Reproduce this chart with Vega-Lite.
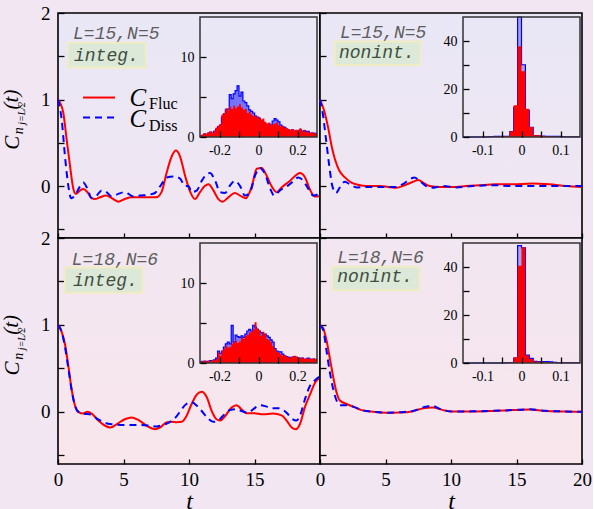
{
"$schema": "https://vega.github.io/schema/vega-lite/v6.json",
"background": "#f1e6f1",
"padding": {"left": 0, "top": 3, "right": 0, "bottom": 0},
"bounds": "flush",
"spacing": 0,
"columns": 2,
"config": {
  "view": {"stroke": "#000", "strokeWidth": 1.6},
  "axis": {"labelFont": "Liberation Serif", "titleFont": "Liberation Serif", "labelColor": "#000", "tickColor": "#000", "titleColor": "#000", "grid": false, "domain": false}
},
"datasets": {
  "tl_f": [{"t":0,"v":1.0},{"t":0.2,"v":0.95},{"t":0.4,"v":0.85},{"t":0.66,"v":0.54},{"t":0.92,"v":0.23},{"t":1.17,"v":-0.03},{"t":1.37,"v":-0.09},{"t":1.55,"v":-0.07},{"t":1.7,"v":-0.05},{"t":1.93,"v":-0.035},{"t":2.24,"v":-0.07},{"t":2.57,"v":-0.14},{"t":2.82,"v":-0.15},{"t":3.2,"v":-0.13},{"t":3.66,"v":-0.11},{"t":4.1,"v":-0.14},{"t":4.6,"v":-0.18},{"t":5.1,"v":-0.15},{"t":5.6,"v":-0.13},{"t":6.26,"v":-0.13},{"t":7.0,"v":-0.13},{"t":7.5,"v":-0.13},{"t":7.9,"v":-0.07},{"t":8.3,"v":0.16},{"t":8.7,"v":0.35},{"t":9.0,"v":0.41},{"t":9.3,"v":0.35},{"t":9.7,"v":0.12},{"t":10.1,"v":-0.07},{"t":10.46,"v":-0.15},{"t":10.84,"v":-0.07},{"t":11.2,"v":0.0},{"t":11.5,"v":0.02},{"t":11.86,"v":-0.05},{"t":12.24,"v":-0.15},{"t":12.57,"v":-0.18},{"t":13.0,"v":-0.13},{"t":13.5,"v":-0.08},{"t":13.9,"v":-0.11},{"t":14.35,"v":-0.14},{"t":14.8,"v":0.0},{"t":15.17,"v":0.2},{"t":15.55,"v":0.21},{"t":15.93,"v":0.12},{"t":16.3,"v":0.0},{"t":16.7,"v":-0.07},{"t":17.07,"v":-0.015},{"t":17.7,"v":0.06},{"t":18.2,"v":0.13},{"t":18.47,"v":0.15},{"t":18.86,"v":0.1},{"t":19.2,"v":-0.03},{"t":19.6,"v":-0.12},{"t":19.85,"v":-0.12},{"t":20,"v":-0.1}],
  "tl_d": [{"t":0,"v":1.0},{"t":0.28,"v":0.77},{"t":0.53,"v":0.35},{"t":0.79,"v":0.0},{"t":1.0,"v":-0.14},{"t":1.3,"v":-0.11},{"t":1.63,"v":-0.015},{"t":1.93,"v":0.04},{"t":2.24,"v":-0.03},{"t":2.57,"v":-0.14},{"t":2.95,"v":-0.11},{"t":3.33,"v":-0.05},{"t":3.7,"v":-0.07},{"t":4.1,"v":-0.12},{"t":4.6,"v":-0.09},{"t":5.1,"v":-0.07},{"t":5.75,"v":-0.12},{"t":6.26,"v":-0.11},{"t":6.9,"v":-0.1},{"t":7.4,"v":-0.08},{"t":7.9,"v":0.02},{"t":8.3,"v":0.1},{"t":8.8,"v":0.11},{"t":9.3,"v":0.09},{"t":9.7,"v":0.0},{"t":9.95,"v":0.0},{"t":10.2,"v":-0.07},{"t":10.6,"v":-0.05},{"t":10.97,"v":0.06},{"t":11.3,"v":0.13},{"t":11.6,"v":0.15},{"t":12.0,"v":0.06},{"t":12.37,"v":-0.07},{"t":12.75,"v":-0.08},{"t":13.1,"v":0.0},{"t":13.5,"v":0.06},{"t":13.9,"v":0.0},{"t":14.27,"v":-0.11},{"t":14.66,"v":-0.07},{"t":15.04,"v":0.12},{"t":15.4,"v":0.21},{"t":15.8,"v":0.14},{"t":16.2,"v":-0.03},{"t":16.5,"v":-0.11},{"t":16.95,"v":-0.05},{"t":17.5,"v":0.0},{"t":18.0,"v":0.06},{"t":18.35,"v":0.1},{"t":18.73,"v":0.06},{"t":19.1,"v":-0.03},{"t":19.5,"v":-0.11},{"t":19.87,"v":-0.09},{"t":20,"v":-0.07}],
  "tr_f": [{"t":0,"v":1.0},{"t":0.3,"v":0.88},{"t":0.63,"v":0.67},{"t":0.89,"v":0.46},{"t":1.14,"v":0.31},{"t":1.47,"v":0.18},{"t":1.9,"v":0.1},{"t":2.4,"v":0.04},{"t":2.9,"v":0.015},{"t":3.55,"v":0.0},{"t":4.56,"v":0.0},{"t":5.2,"v":-0.01},{"t":5.83,"v":-0.02},{"t":6.46,"v":0.01},{"t":7.1,"v":0.05},{"t":7.5,"v":0.07},{"t":7.86,"v":0.04},{"t":8.37,"v":0.0},{"t":9.1,"v":-0.01},{"t":10.1,"v":-0.01},{"t":11.15,"v":0.0},{"t":12.2,"v":0.01},{"t":13.4,"v":0.02},{"t":14.7,"v":0.02},{"t":16.2,"v":0.03},{"t":17.5,"v":0.02},{"t":18.8,"v":0.0},{"t":20,"v":-0.01}],
  "tr_d": [{"t":0,"v":1.0},{"t":0.2,"v":0.85},{"t":0.46,"v":0.54},{"t":0.71,"v":0.23},{"t":0.94,"v":0.0},{"t":1.22,"v":-0.08},{"t":1.52,"v":-0.015},{"t":1.9,"v":0.05},{"t":2.28,"v":0.02},{"t":2.8,"v":-0.015},{"t":3.55,"v":-0.01},{"t":4.8,"v":-0.01},{"t":5.83,"v":-0.01},{"t":6.3,"v":0.02},{"t":7.0,"v":0.09},{"t":7.2,"v":0.1},{"t":7.6,"v":0.06},{"t":8.1,"v":0.0},{"t":8.5,"v":-0.02},{"t":9.4,"v":0.0},{"t":10.4,"v":-0.015},{"t":11.66,"v":0.0},{"t":13.2,"v":0.01},{"t":14.7,"v":0.0},{"t":16.2,"v":0.0},{"t":17.7,"v":0.0},{"t":20,"v":0.0}],
  "bl_f": [{"t":0,"v":1.0},{"t":0.28,"v":0.92},{"t":0.53,"v":0.78},{"t":0.79,"v":0.53},{"t":1.04,"v":0.26},{"t":1.3,"v":0.07},{"t":1.55,"v":0.0},{"t":1.93,"v":-0.02},{"t":2.24,"v":0.0},{"t":2.57,"v":-0.02},{"t":3.08,"v":-0.1},{"t":3.6,"v":-0.16},{"t":4.0,"v":-0.18},{"t":4.5,"v":-0.14},{"t":5.1,"v":-0.085},{"t":5.6,"v":-0.065},{"t":6.1,"v":-0.09},{"t":6.77,"v":-0.16},{"t":7.4,"v":-0.2},{"t":7.8,"v":-0.18},{"t":8.3,"v":-0.12},{"t":8.7,"v":-0.115},{"t":9.06,"v":-0.12},{"t":9.44,"v":-0.115},{"t":9.8,"v":-0.05},{"t":10.2,"v":0.09},{"t":10.6,"v":0.2},{"t":10.97,"v":0.23},{"t":11.35,"v":0.17},{"t":11.73,"v":0.01},{"t":12.1,"v":-0.085},{"t":12.37,"v":-0.1},{"t":12.75,"v":-0.05},{"t":13.25,"v":0.05},{"t":13.64,"v":0.077},{"t":14.0,"v":0.03},{"t":14.4,"v":-0.015},{"t":14.9,"v":-0.015},{"t":15.67,"v":-0.027},{"t":16.4,"v":-0.02},{"t":17.07,"v":-0.04},{"t":17.45,"v":-0.1},{"t":17.84,"v":-0.18},{"t":18.17,"v":-0.2},{"t":18.47,"v":-0.14},{"t":18.86,"v":0.06},{"t":19.24,"v":0.2},{"t":19.6,"v":0.33},{"t":19.95,"v":0.38},{"t":20,"v":0.38}],
  "bl_d": [{"t":0,"v":1.0},{"t":0.28,"v":0.92},{"t":0.53,"v":0.75},{"t":0.79,"v":0.5},{"t":1.04,"v":0.25},{"t":1.3,"v":0.07},{"t":1.55,"v":0.0},{"t":1.93,"v":-0.02},{"t":2.5,"v":-0.03},{"t":3.0,"v":-0.08},{"t":3.5,"v":-0.12},{"t":4.0,"v":-0.14},{"t":5.0,"v":-0.15},{"t":6.0,"v":-0.15},{"t":7.0,"v":-0.16},{"t":7.5,"v":-0.17},{"t":8.0,"v":-0.15},{"t":8.5,"v":-0.12},{"t":9.06,"v":-0.05},{"t":9.44,"v":0.03},{"t":9.8,"v":0.09},{"t":10.2,"v":0.11},{"t":10.6,"v":0.07},{"t":10.97,"v":0.01},{"t":11.35,"v":-0.06},{"t":11.86,"v":-0.115},{"t":12.24,"v":-0.1},{"t":12.6,"v":-0.045},{"t":13.13,"v":0.02},{"t":13.64,"v":0.03},{"t":14.0,"v":0.01},{"t":14.5,"v":-0.01},{"t":14.9,"v":0.03},{"t":15.4,"v":0.077},{"t":15.93,"v":0.06},{"t":16.4,"v":0.04},{"t":16.9,"v":0.04},{"t":17.45,"v":-0.01},{"t":17.84,"v":-0.077},{"t":18.2,"v":-0.1},{"t":18.47,"v":-0.045},{"t":18.86,"v":0.15},{"t":19.24,"v":0.3},{"t":19.6,"v":0.36},{"t":19.95,"v":0.4},{"t":20,"v":0.4}],
  "br_f": [{"t":0,"v":1.0},{"t":0.25,"v":0.96},{"t":0.5,"v":0.82},{"t":0.76,"v":0.61},{"t":1.01,"v":0.4},{"t":1.27,"v":0.22},{"t":1.52,"v":0.13},{"t":2.03,"v":0.09},{"t":2.53,"v":0.06},{"t":3.17,"v":0.02},{"t":4.06,"v":0.0},{"t":5.07,"v":-0.01},{"t":6.08,"v":-0.008},{"t":7.1,"v":0.008},{"t":7.86,"v":0.04},{"t":8.6,"v":0.05},{"t":9.4,"v":0.02},{"t":10.1,"v":0.004},{"t":11.66,"v":0.004},{"t":13.2,"v":0.01},{"t":14.7,"v":0.02},{"t":16.0,"v":0.027},{"t":17.2,"v":0.01},{"t":18.76,"v":0.004},{"t":20,"v":0.0}],
  "br_d": [{"t":0,"v":1.0},{"t":0.25,"v":0.94},{"t":0.5,"v":0.7},{"t":0.76,"v":0.45},{"t":1.01,"v":0.26},{"t":1.27,"v":0.13},{"t":1.52,"v":0.077},{"t":1.9,"v":0.077},{"t":2.53,"v":0.06},{"t":3.17,"v":0.02},{"t":4.06,"v":0.0},{"t":5.07,"v":-0.01},{"t":6.08,"v":-0.005},{"t":7.1,"v":0.01},{"t":7.86,"v":0.05},{"t":8.5,"v":0.07},{"t":9.4,"v":0.02},{"t":10.1,"v":0.004},{"t":11.66,"v":0.006},{"t":13.2,"v":0.012},{"t":14.7,"v":0.02},{"t":16.0,"v":0.03},{"t":17.2,"v":0.012},{"t":18.76,"v":0.004},{"t":20,"v":0.0}],
  "tl_hf": [{"b":-0.30,"c":0.2},{"b":-0.29,"c":0.3},{"b":-0.28,"c":0.5},{"b":-0.27,"c":0.4},{"b":-0.26,"c":0.6},{"b":-0.25,"c":0.7},{"b":-0.24,"c":0.5},{"b":-0.23,"c":0.8},{"b":-0.22,"c":1.2},{"b":-0.21,"c":1.4},{"b":-0.20,"c":1.6},{"b":-0.19,"c":2.8},{"b":-0.18,"c":3.0},{"b":-0.17,"c":3.6},{"b":-0.16,"c":3.3},{"b":-0.15,"c":3.8},{"b":-0.14,"c":3.5},{"b":-0.13,"c":3.9},{"b":-0.12,"c":3.6},{"b":-0.11,"c":3.8},{"b":-0.10,"c":4.1},{"b":-0.09,"c":3.7},{"b":-0.08,"c":3.4},{"b":-0.07,"c":3.5},{"b":-0.06,"c":3.0},{"b":-0.05,"c":3.2},{"b":-0.04,"c":2.8},{"b":-0.03,"c":2.6},{"b":-0.02,"c":2.7},{"b":-0.01,"c":2.4},{"b":0.00,"c":2.5},{"b":0.01,"c":2.2},{"b":0.02,"c":2.3},{"b":0.03,"c":1.9},{"b":0.04,"c":1.7},{"b":0.05,"c":1.8},{"b":0.06,"c":1.5},{"b":0.07,"c":1.6},{"b":0.08,"c":1.7},{"b":0.09,"c":1.8},{"b":0.10,"c":1.5},{"b":0.11,"c":1.3},{"b":0.12,"c":1.4},{"b":0.13,"c":1.2},{"b":0.14,"c":1.1},{"b":0.15,"c":1.0},{"b":0.16,"c":0.9},{"b":0.17,"c":1.0},{"b":0.18,"c":0.8},{"b":0.19,"c":0.9},{"b":0.20,"c":0.9},{"b":0.21,"c":1.1},{"b":0.22,"c":0.7},{"b":0.23,"c":0.9},{"b":0.24,"c":0.6},{"b":0.25,"c":0.7},{"b":0.26,"c":0.5},{"b":0.27,"c":0.6},{"b":0.28,"c":0.5},{"b":0.29,"c":0.4},{"b":0.30,"c":0.4}],
  "tl_hd": [{"b":-0.30,"c":0.1},{"b":-0.29,"c":0.2},{"b":-0.28,"c":0.4},{"b":-0.27,"c":0.3},{"b":-0.26,"c":0.5},{"b":-0.25,"c":0.6},{"b":-0.24,"c":0.5},{"b":-0.23,"c":0.7},{"b":-0.22,"c":1.0},{"b":-0.21,"c":1.3},{"b":-0.20,"c":1.5},{"b":-0.19,"c":2.5},{"b":-0.18,"c":2.9},{"b":-0.17,"c":3.4},{"b":-0.16,"c":3.5},{"b":-0.15,"c":5.3},{"b":-0.14,"c":4.8},{"b":-0.13,"c":5.4},{"b":-0.12,"c":5.8},{"b":-0.11,"c":6.4},{"b":-0.10,"c":5.1},{"b":-0.09,"c":5.6},{"b":-0.08,"c":4.5},{"b":-0.07,"c":4.3},{"b":-0.06,"c":3.9},{"b":-0.05,"c":3.4},{"b":-0.04,"c":3.2},{"b":-0.03,"c":3.0},{"b":-0.02,"c":2.6},{"b":-0.01,"c":2.5},{"b":0.00,"c":2.3},{"b":0.01,"c":2.0},{"b":0.02,"c":1.8},{"b":0.03,"c":1.6},{"b":0.04,"c":1.5},{"b":0.05,"c":1.6},{"b":0.06,"c":1.5},{"b":0.07,"c":2.0},{"b":0.08,"c":2.3},{"b":0.09,"c":2.1},{"b":0.10,"c":1.9},{"b":0.11,"c":1.5},{"b":0.12,"c":1.3},{"b":0.13,"c":1.2},{"b":0.14,"c":1.0},{"b":0.15,"c":0.9},{"b":0.16,"c":0.8},{"b":0.17,"c":0.9},{"b":0.18,"c":0.7},{"b":0.19,"c":0.8},{"b":0.20,"c":0.8},{"b":0.21,"c":0.9},{"b":0.22,"c":0.7},{"b":0.23,"c":0.8},{"b":0.24,"c":0.7},{"b":0.25,"c":0.7},{"b":0.26,"c":0.5},{"b":0.27,"c":0.5},{"b":0.28,"c":0.5},{"b":0.29,"c":0.4},{"b":0.30,"c":0.4}],
  "bl_hf": [{"b":-0.30,"c":0.2},{"b":-0.29,"c":0.2},{"b":-0.28,"c":0.3},{"b":-0.27,"c":0.2},{"b":-0.26,"c":0.3},{"b":-0.25,"c":0.2},{"b":-0.24,"c":0.4},{"b":-0.23,"c":0.3},{"b":-0.22,"c":0.5},{"b":-0.21,"c":1.3},{"b":-0.20,"c":0.9},{"b":-0.19,"c":1.5},{"b":-0.18,"c":1.8},{"b":-0.17,"c":2.2},{"b":-0.16,"c":1.9},{"b":-0.15,"c":2.0},{"b":-0.14,"c":2.4},{"b":-0.13,"c":2.6},{"b":-0.12,"c":2.8},{"b":-0.11,"c":2.5},{"b":-0.10,"c":2.7},{"b":-0.09,"c":3.2},{"b":-0.08,"c":3.0},{"b":-0.07,"c":3.4},{"b":-0.06,"c":3.5},{"b":-0.05,"c":3.8},{"b":-0.04,"c":3.9},{"b":-0.03,"c":4.2},{"b":-0.02,"c":5.1},{"b":-0.01,"c":4.3},{"b":0.00,"c":4.1},{"b":0.01,"c":3.4},{"b":0.02,"c":3.9},{"b":0.03,"c":3.6},{"b":0.04,"c":3.0},{"b":0.05,"c":2.9},{"b":0.06,"c":2.6},{"b":0.07,"c":2.1},{"b":0.08,"c":1.75},{"b":0.09,"c":1.4},{"b":0.10,"c":1.3},{"b":0.11,"c":1.1},{"b":0.12,"c":0.9},{"b":0.13,"c":1.0},{"b":0.14,"c":0.8},{"b":0.15,"c":0.7},{"b":0.16,"c":0.7},{"b":0.17,"c":0.8},{"b":0.18,"c":0.9},{"b":0.19,"c":0.8},{"b":0.20,"c":0.7},{"b":0.21,"c":0.6},{"b":0.22,"c":0.7},{"b":0.23,"c":0.5},{"b":0.24,"c":0.6},{"b":0.25,"c":0.6},{"b":0.26,"c":0.5},{"b":0.27,"c":0.5},{"b":0.28,"c":0.6},{"b":0.29,"c":0.5},{"b":0.30,"c":0.5}],
  "bl_hd": [{"b":-0.30,"c":0.1},{"b":-0.29,"c":0.2},{"b":-0.28,"c":0.2},{"b":-0.27,"c":0.2},{"b":-0.26,"c":0.2},{"b":-0.25,"c":0.3},{"b":-0.24,"c":0.3},{"b":-0.23,"c":0.4},{"b":-0.22,"c":0.6},{"b":-0.21,"c":1.5},{"b":-0.20,"c":1.2},{"b":-0.19,"c":1.5},{"b":-0.18,"c":2.0},{"b":-0.17,"c":2.4},{"b":-0.16,"c":2.6},{"b":-0.15,"c":2.4},{"b":-0.14,"c":4.7},{"b":-0.13,"c":2.6},{"b":-0.12,"c":3.5},{"b":-0.11,"c":3.3},{"b":-0.10,"c":3.2},{"b":-0.09,"c":3.4},{"b":-0.08,"c":3.2},{"b":-0.07,"c":3.6},{"b":-0.06,"c":4.0},{"b":-0.05,"c":4.2},{"b":-0.04,"c":4.0},{"b":-0.03,"c":4.7},{"b":-0.02,"c":4.5},{"b":-0.01,"c":4.2},{"b":0.00,"c":4.0},{"b":0.01,"c":3.8},{"b":0.02,"c":3.4},{"b":0.03,"c":3.6},{"b":0.04,"c":3.4},{"b":0.05,"c":3.2},{"b":0.06,"c":2.9},{"b":0.07,"c":2.6},{"b":0.08,"c":1.8},{"b":0.09,"c":1.5},{"b":0.10,"c":1.4},{"b":0.11,"c":1.4},{"b":0.12,"c":1.1},{"b":0.13,"c":0.9},{"b":0.14,"c":0.8},{"b":0.15,"c":0.7},{"b":0.16,"c":0.7},{"b":0.17,"c":0.7},{"b":0.18,"c":0.8},{"b":0.19,"c":0.7},{"b":0.20,"c":0.6},{"b":0.21,"c":0.6},{"b":0.22,"c":0.6},{"b":0.23,"c":0.5},{"b":0.24,"c":0.5},{"b":0.25,"c":0.6},{"b":0.26,"c":0.5},{"b":0.27,"c":0.5},{"b":0.28,"c":0.5},{"b":0.29,"c":0.4},{"b":0.30,"c":0.4}],
  "tr_hf": [{"b":-0.15,"c":0},{"b":-0.14,"c":0},{"b":-0.13,"c":0},{"b":-0.12,"c":0},{"b":-0.11,"c":0},{"b":-0.10,"c":0},{"b":-0.09,"c":0.1},{"b":-0.08,"c":0.1},{"b":-0.07,"c":0.1},{"b":-0.06,"c":0.2},{"b":-0.05,"c":0.2},{"b":-0.04,"c":0.4},{"b":-0.03,"c":2.4},{"b":-0.02,"c":13.2},{"b":-0.01,"c":37.8},{"b":0.00,"c":27.4},{"b":0.01,"c":11.8},{"b":0.02,"c":4.2},{"b":0.03,"c":0.7},{"b":0.04,"c":0.7},{"b":0.05,"c":0.4},{"b":0.06,"c":0.3},{"b":0.07,"c":0.2},{"b":0.08,"c":0.2},{"b":0.09,"c":0.1},{"b":0.10,"c":0.1},{"b":0.11,"c":0.1},{"b":0.12,"c":0.1},{"b":0.13,"c":0.1},{"b":0.14,"c":0.1},{"b":0.15,"c":0.1}],
  "tr_hd": [{"b":-0.15,"c":0},{"b":-0.14,"c":0},{"b":-0.13,"c":0},{"b":-0.12,"c":0},{"b":-0.11,"c":0},{"b":-0.10,"c":0},{"b":-0.09,"c":0.1},{"b":-0.08,"c":0.2},{"b":-0.07,"c":0.3},{"b":-0.06,"c":0.3},{"b":-0.05,"c":0.3},{"b":-0.04,"c":0.3},{"b":-0.03,"c":2.2},{"b":-0.02,"c":12.5},{"b":-0.01,"c":56},{"b":0.00,"c":30.1},{"b":0.01,"c":11.0},{"b":0.02,"c":4.0},{"b":0.03,"c":0.6},{"b":0.04,"c":0.5},{"b":0.05,"c":0.4},{"b":0.06,"c":0.3},{"b":0.07,"c":0.3},{"b":0.08,"c":0.3},{"b":0.09,"c":0.3},{"b":0.10,"c":0.2},{"b":0.11,"c":0.1},{"b":0.12,"c":0.1},{"b":0.13,"c":0.1},{"b":0.14,"c":0.1},{"b":0.15,"c":0.1}],
  "br_hf": [{"b":-0.15,"c":0},{"b":-0.14,"c":0},{"b":-0.13,"c":0},{"b":-0.12,"c":0},{"b":-0.11,"c":0},{"b":-0.10,"c":0},{"b":-0.09,"c":0},{"b":-0.08,"c":0},{"b":-0.07,"c":0},{"b":-0.06,"c":0},{"b":-0.05,"c":0},{"b":-0.04,"c":0.1},{"b":-0.03,"c":0.2},{"b":-0.02,"c":2.4},{"b":-0.01,"c":40.5},{"b":0.00,"c":48.2},{"b":0.01,"c":3.1},{"b":0.02,"c":1.7},{"b":0.03,"c":0.6},{"b":0.04,"c":0.6},{"b":0.05,"c":0.3},{"b":0.06,"c":0.3},{"b":0.07,"c":0.2},{"b":0.08,"c":0.2},{"b":0.09,"c":0.1},{"b":0.10,"c":0.1},{"b":0.11,"c":0.1},{"b":0.12,"c":0.1},{"b":0.13,"c":0.1},{"b":0.14,"c":0.1},{"b":0.15,"c":0.1}],
  "br_hd": [{"b":-0.15,"c":0},{"b":-0.14,"c":0},{"b":-0.13,"c":0},{"b":-0.12,"c":0},{"b":-0.11,"c":0},{"b":-0.10,"c":0},{"b":-0.09,"c":0},{"b":-0.08,"c":0},{"b":-0.07,"c":0},{"b":-0.06,"c":0},{"b":-0.05,"c":0},{"b":-0.04,"c":0.1},{"b":-0.03,"c":0.2},{"b":-0.02,"c":2.0},{"b":-0.01,"c":48.9},{"b":0.00,"c":48.0},{"b":0.01,"c":3.3},{"b":0.02,"c":1.9},{"b":0.03,"c":0.7},{"b":0.04,"c":0.6},{"b":0.05,"c":0.6},{"b":0.06,"c":0.6},{"b":0.07,"c":0.5},{"b":0.08,"c":0.3},{"b":0.09,"c":0.1},{"b":0.10,"c":0.1},{"b":0.11,"c":0.1},{"b":0.12,"c":0.1},{"b":0.13,"c":0.1},{"b":0.14,"c":0.1},{"b":0.15,"c":0.1}]
},
"concat": [
 {
  "width": 262, "height": 225,
  "view": {"fill": {"gradient": "linear", "x1": 0, "y1": 0, "x2": 0, "y2": 1, "stops": [{"offset": 0, "color": "#e9e7f6"}, {"offset": 1, "color": "#f1e6f1"}]}},
  "layer": [
   {"layer": [
     {"data": {"name": "tl_f"}, "mark": {"type": "line", "color": "#ff0000", "strokeWidth": 2, "interpolate": "monotone"},
      "encoding": {
        "x": {"field": "t", "type": "quantitative", "scale": {"domain": [0, 20], "nice": false, "zero": false}, "axis": {"values": [0,2.5,5,7.5,10,12.5,15,17.5,20], "labels": false, "tickSize": -5, "tickWidth": 1.3, "title": null}},
        "y": {"field": "v", "type": "quantitative", "scale": {"domain": [-0.6, 2], "nice": false, "zero": false}, "axis": {"values": [-0.5,0,0.5,1,1.5,2], "labelExpr": "datum.value % 1 == 0 ? format(datum.value, 'd') : ''", "labelOverlap": false, "labelFlush": false, "labelFontSize": 19, "labelPadding": 14, "tickSize": -6, "tickWidth": 1.3, "title": null}}}},
     {"data": {"name": "tl_d"}, "mark": {"type": "line", "color": "#0000ff", "strokeWidth": 2, "strokeDash": [7, 5], "interpolate": "monotone"},
      "encoding": {"x": {"field": "t", "type": "quantitative"}, "y": {"field": "v", "type": "quantitative"}}},
     {"data": {"values": [{}]}, "mark": {"type": "rect", "fill": "#dce8d8", "stroke": "#f1ecc2", "strokeWidth": 2},
      "encoding": {"x": {"datum": 0.76, "type": "quantitative"}, "x2": {"datum": 6.7}, "y": {"datum": 1.37, "type": "quantitative"}, "y2": {"datum": 1.655}}},
     {"data": {"values": [{}]}, "mark": {"type": "text", "align": "left", "baseline": "middle", "font": "Liberation Mono", "fontStyle": "italic", "fontSize": 18, "color": "#5e5e5e"},
      "encoding": {"x": {"datum": 1.15, "type": "quantitative"}, "y": {"datum": 1.76, "type": "quantitative"}, "text": {"value": "L=15,N=5"}}},
     {"data": {"values": [{}]}, "mark": {"type": "text", "align": "left", "baseline": "middle", "font": "Liberation Mono", "fontStyle": "italic", "fontSize": 18, "color": "#3f4f42"},
      "encoding": {"x": {"datum": 1.22, "type": "quantitative"}, "y": {"datum": 1.5, "type": "quantitative"}, "text": {"value": "integ."}}},
     {"data": {"values": [{}]}, "mark": {"type": "rule", "color": "#ff0000", "strokeWidth": 2},
      "encoding": {"x": {"datum": 1.91, "type": "quantitative"}, "x2": {"datum": 4.35}, "y": {"datum": 1.023, "type": "quantitative"}}},
     {"data": {"values": [{}]}, "mark": {"type": "rule", "color": "#0000ff", "strokeWidth": 2, "strokeDash": [7, 5]},
      "encoding": {"x": {"datum": 1.91, "type": "quantitative"}, "x2": {"datum": 4.35}, "y": {"datum": 0.793, "type": "quantitative"}}},
     {"data": {"values": [{}]}, "mark": {"type": "text", "align": "left", "baseline": "middle", "font": "Liberation Serif", "fontStyle": "italic", "fontSize": 25, "color": "#000"},
      "encoding": {"x": {"datum": 5.45, "type": "quantitative"}, "y": {"datum": 1.023, "type": "quantitative"}, "text": {"value": "C"}}},
     {"data": {"values": [{}]}, "mark": {"type": "text", "align": "left", "baseline": "middle", "font": "Liberation Serif", "fontSize": 16, "color": "#000"},
      "encoding": {"x": {"datum": 6.95, "type": "quantitative"}, "y": {"datum": 0.943, "type": "quantitative"}, "text": {"value": "Fluc"}}},
     {"data": {"values": [{}]}, "mark": {"type": "text", "align": "left", "baseline": "middle", "font": "Liberation Serif", "fontStyle": "italic", "fontSize": 25, "color": "#000"},
      "encoding": {"x": {"datum": 5.45, "type": "quantitative"}, "y": {"datum": 0.77, "type": "quantitative"}, "text": {"value": "C"}}},
     {"data": {"values": [{}]}, "mark": {"type": "text", "align": "left", "baseline": "middle", "font": "Liberation Serif", "fontSize": 16, "color": "#000"},
      "encoding": {"x": {"datum": 6.95, "type": "quantitative"}, "y": {"datum": 0.69, "type": "quantitative"}, "text": {"value": "Diss"}}},
     {"data": {"values": [{}]}, "mark": {"type": "text", "align": "center", "baseline": "middle", "angle": 270, "font": "Liberation Serif", "fontStyle": "italic", "fontSize": 21, "color": "#000"},
      "encoding": {"x": {"datum": -3.47, "type": "quantitative"}, "y": {"datum": 0.5, "type": "quantitative"}, "text": {"value": "C"}}},
     {"data": {"values": [{}]}, "mark": {"type": "text", "align": "center", "baseline": "middle", "angle": 270, "font": "Liberation Serif", "fontStyle": "italic", "fontSize": 14, "color": "#000"},
      "encoding": {"x": {"datum": -3.0, "type": "quantitative"}, "y": {"datum": 0.64, "type": "quantitative"}, "text": {"value": "n"}}},
     {"data": {"values": [{}]}, "mark": {"type": "text", "align": "center", "baseline": "middle", "angle": 270, "font": "Liberation Serif", "fontStyle": "italic", "fontSize": 10, "color": "#000"},
      "encoding": {"x": {"datum": -2.72, "type": "quantitative"}, "y": {"datum": 0.84, "type": "quantitative"}, "text": {"value": "j=L/2"}}},
     {"data": {"values": [{}]}, "mark": {"type": "text", "align": "center", "baseline": "middle", "angle": 270, "font": "Liberation Serif", "fontStyle": "italic", "fontSize": 21, "color": "#000"},
      "encoding": {"x": {"datum": -3.5, "type": "quantitative"}, "y": {"datum": 1.0, "type": "quantitative"}, "text": {"value": "(t)"}}}
   ]},
   {"layer": [
     {"data": {"name": "tl_hd"}, "mark": {"type": "area", "interpolate": "step-after", "fill": "#0000ff", "fillOpacity": 0.5, "line": {"color": "#0000ff", "strokeWidth": 1.2}},
      "encoding": {
        "x": {"field": "b", "type": "quantitative", "scale": {"domain": [-0.3, 0.3], "range": [142, 259], "nice": false, "zero": false}, "axis": {"orient": "bottom", "offset": -101, "zindex": 1, "values": [-0.2,-0.1,0,0.1,0.2], "labelExpr": "datum.value == 0 ? '0' : datum.value == 0.2 ? '0.2' : datum.value == -0.2 ? '-0.2' : ''", "labelOverlap": false, "labelFlush": false, "labelFontSize": 14, "labelPadding": 12, "tickSize": -6, "tickWidth": 1.3, "title": null}},
        "y": {"field": "c", "type": "quantitative", "scale": {"domain": [0, 15], "range": [124, 4], "nice": false, "clamp": true}, "axis": {"orient": "left", "offset": -142, "zindex": 1, "values": [0,5,10], "labelExpr": "datum.value % 10 == 0 ? datum.label : ''", "labelOverlap": false, "labelFlush": false, "labelFontSize": 14, "labelPadding": 12, "tickSize": -6, "tickWidth": 1.3, "title": null}}}},
     {"data": {"name": "tl_hf"}, "mark": {"type": "area", "interpolate": "step-after", "fill": "#ff0000"},
      "encoding": {"x": {"field": "b", "type": "quantitative"}, "y": {"field": "c", "type": "quantitative"}}},
     {"data": {"values": [{}]}, "mark": {"type": "rect", "fill": "#ffffff", "fillOpacity": 0, "stroke": "#333333", "strokeWidth": 1.5},
      "encoding": {"x": {"datum": -0.3, "type": "quantitative"}, "x2": {"datum": 0.3}, "y": {"datum": 0, "type": "quantitative"}, "y2": {"datum": 15}}}
   ]}
  ],
  "resolve": {"scale": {"x": "independent", "y": "independent"}, "axis": {"x": "independent", "y": "independent"}}
 },
 {
  "width": 262, "height": 225,
  "view": {"fill": {"gradient": "linear", "x1": 0, "y1": 0, "x2": 0, "y2": 1, "stops": [{"offset": 0, "color": "#e9e7f6"}, {"offset": 1, "color": "#f1e6f1"}]}},
  "layer": [
   {"layer": [
     {"data": {"name": "tr_f"}, "mark": {"type": "line", "color": "#ff0000", "strokeWidth": 2, "interpolate": "monotone"},
      "encoding": {
        "x": {"field": "t", "type": "quantitative", "scale": {"domain": [0, 20], "nice": false, "zero": false}, "axis": {"values": [0,2.5,5,7.5,10,12.5,15,17.5,20], "labels": false, "tickSize": -5, "tickWidth": 1.3, "title": null}},
        "y": {"field": "v", "type": "quantitative", "scale": {"domain": [-0.6, 2], "nice": false, "zero": false}, "axis": {"values": [-0.5,0,0.5,1,1.5,2], "labels": false, "tickSize": -6, "tickWidth": 1.3, "title": null}}}},
     {"data": {"name": "tr_d"}, "mark": {"type": "line", "color": "#0000ff", "strokeWidth": 2, "strokeDash": [7, 5], "interpolate": "monotone"},
      "encoding": {"x": {"field": "t", "type": "quantitative"}, "y": {"field": "v", "type": "quantitative"}}},
     {"data": {"values": [{}]}, "mark": {"type": "rect", "fill": "#dce8d8", "stroke": "#f1ecc2", "strokeWidth": 2},
      "encoding": {"x": {"datum": 1.14, "type": "quantitative"}, "x2": {"datum": 7.66}, "y": {"datum": 1.40, "type": "quantitative"}, "y2": {"datum": 1.67}}},
     {"data": {"values": [{}]}, "mark": {"type": "text", "align": "left", "baseline": "middle", "font": "Liberation Mono", "fontStyle": "italic", "fontSize": 18, "color": "#5e5e5e"},
      "encoding": {"x": {"datum": 1.52, "type": "quantitative"}, "y": {"datum": 1.77, "type": "quantitative"}, "text": {"value": "L=15,N=5"}}},
     {"data": {"values": [{}]}, "mark": {"type": "text", "align": "left", "baseline": "middle", "font": "Liberation Mono", "fontStyle": "italic", "fontSize": 18, "color": "#3f4f42"},
      "encoding": {"x": {"datum": 1.45, "type": "quantitative"}, "y": {"datum": 1.54, "type": "quantitative"}, "text": {"value": "nonint."}}}
   ]},
   {"layer": [
     {"data": {"name": "tr_hd"}, "mark": {"type": "area", "interpolate": "step-after", "fill": "#0000ff", "fillOpacity": 0.3, "line": {"color": "#0000ff", "strokeWidth": 1.2}},
      "encoding": {
        "x": {"field": "b", "type": "quantitative", "scale": {"domain": [-0.15, 0.15], "range": [143, 260], "nice": false, "zero": false}, "axis": {"orient": "bottom", "offset": -101, "zindex": 1, "values": [-0.1,-0.05,0,0.05,0.1], "labelExpr": "datum.value == 0 ? '0' : datum.value == 0.1 ? '0.1' : datum.value == -0.1 ? '-0.1' : ''", "labelOverlap": false, "labelFlush": false, "labelFontSize": 14, "labelPadding": 12, "tickSize": -6, "tickWidth": 1.3, "title": null}},
        "y": {"field": "c", "type": "quantitative", "scale": {"domain": [0, 50], "range": [124, 4], "nice": false, "clamp": true}, "axis": {"orient": "left", "offset": -143, "zindex": 1, "values": [0,10,20,30,40], "labelExpr": "datum.value % 20 == 0 ? datum.label : ''", "labelOverlap": false, "labelFlush": false, "labelFontSize": 14, "labelPadding": 12, "tickSize": -6, "tickWidth": 1.3, "title": null}}}},
     {"data": {"name": "tr_hf"}, "mark": {"type": "area", "interpolate": "step-after", "fill": "#ff0000"},
      "encoding": {"x": {"field": "b", "type": "quantitative"}, "y": {"field": "c", "type": "quantitative"}}},
     {"data": {"values": [{}]}, "mark": {"type": "rect", "fill": "#ffffff", "fillOpacity": 0, "stroke": "#333333", "strokeWidth": 1.5},
      "encoding": {"x": {"datum": -0.15, "type": "quantitative"}, "x2": {"datum": 0.15}, "y": {"datum": 0, "type": "quantitative"}, "y2": {"datum": 50}}}
   ]}
  ],
  "resolve": {"scale": {"x": "independent", "y": "independent"}, "axis": {"x": "independent", "y": "independent"}}
 },
 {
  "width": 262, "height": 226,
  "view": {"fill": {"gradient": "linear", "x1": 0, "y1": 0, "x2": 0, "y2": 1, "stops": [{"offset": 0, "color": "#f1e6f1"}, {"offset": 1, "color": "#f9e6ec"}]}},
  "layer": [
   {"layer": [
     {"data": {"name": "bl_f"}, "mark": {"type": "line", "color": "#ff0000", "strokeWidth": 2, "interpolate": "monotone"},
      "encoding": {
        "x": {"field": "t", "type": "quantitative", "scale": {"domain": [0, 20], "nice": false, "zero": false}, "axis": {"values": [0,2.5,5,7.5,10,12.5,15,17.5,20], "labelExpr": "datum.value % 5 == 0 && datum.value < 20 ? datum.label : ''", "labelOverlap": false, "labelFlush": false, "labelFontSize": 19, "labelPadding": 11, "tickSize": -5, "tickWidth": 1.3, "title": "t", "titleFontStyle": "italic", "titleFontWeight": "normal", "titleFontSize": 24, "titlePadding": 0}},
        "y": {"field": "v", "type": "quantitative", "scale": {"domain": [-0.6, 2], "nice": false, "zero": false}, "axis": {"values": [-0.5,0,0.5,1,1.5,2], "labelExpr": "datum.value % 1 == 0 ? format(datum.value, 'd') : ''", "labelOverlap": false, "labelFlush": false, "labelFontSize": 19, "labelPadding": 14, "tickSize": -6, "tickWidth": 1.3, "title": null}}}},
     {"data": {"name": "bl_d"}, "mark": {"type": "line", "color": "#0000ff", "strokeWidth": 2, "strokeDash": [7, 5], "interpolate": "monotone"},
      "encoding": {"x": {"field": "t", "type": "quantitative"}, "y": {"field": "v", "type": "quantitative"}}},
     {"data": {"values": [{}]}, "mark": {"type": "rect", "fill": "#dce8d8", "stroke": "#f1ecc2", "strokeWidth": 2},
      "encoding": {"x": {"datum": 0.53, "type": "quantitative"}, "x2": {"datum": 6.45}, "y": {"datum": 1.37, "type": "quantitative"}, "y2": {"datum": 1.66}}},
     {"data": {"values": [{}]}, "mark": {"type": "text", "align": "left", "baseline": "middle", "font": "Liberation Mono", "fontStyle": "italic", "fontSize": 18, "color": "#5e5e5e"},
      "encoding": {"x": {"datum": 1.05, "type": "quantitative"}, "y": {"datum": 1.75, "type": "quantitative"}, "text": {"value": "L=18,N=6"}}},
     {"data": {"values": [{}]}, "mark": {"type": "text", "align": "left", "baseline": "middle", "font": "Liberation Mono", "fontStyle": "italic", "fontSize": 18, "color": "#3f4f42"},
      "encoding": {"x": {"datum": 1.15, "type": "quantitative"}, "y": {"datum": 1.51, "type": "quantitative"}, "text": {"value": "integ."}}},
     {"data": {"values": [{}]}, "mark": {"type": "text", "align": "center", "baseline": "middle", "angle": 270, "font": "Liberation Serif", "fontStyle": "italic", "fontSize": 21, "color": "#000"},
      "encoding": {"x": {"datum": -3.47, "type": "quantitative"}, "y": {"datum": 0.5, "type": "quantitative"}, "text": {"value": "C"}}},
     {"data": {"values": [{}]}, "mark": {"type": "text", "align": "center", "baseline": "middle", "angle": 270, "font": "Liberation Serif", "fontStyle": "italic", "fontSize": 14, "color": "#000"},
      "encoding": {"x": {"datum": -3.0, "type": "quantitative"}, "y": {"datum": 0.64, "type": "quantitative"}, "text": {"value": "n"}}},
     {"data": {"values": [{}]}, "mark": {"type": "text", "align": "center", "baseline": "middle", "angle": 270, "font": "Liberation Serif", "fontStyle": "italic", "fontSize": 10, "color": "#000"},
      "encoding": {"x": {"datum": -2.72, "type": "quantitative"}, "y": {"datum": 0.84, "type": "quantitative"}, "text": {"value": "j=L/2"}}},
     {"data": {"values": [{}]}, "mark": {"type": "text", "align": "center", "baseline": "middle", "angle": 270, "font": "Liberation Serif", "fontStyle": "italic", "fontSize": 21, "color": "#000"},
      "encoding": {"x": {"datum": -3.5, "type": "quantitative"}, "y": {"datum": 1.0, "type": "quantitative"}, "text": {"value": "(t)"}}}
   ]},
   {"layer": [
     {"data": {"name": "bl_hd"}, "mark": {"type": "area", "interpolate": "step-after", "fill": "#0000ff", "fillOpacity": 0.5, "line": {"color": "#0000ff", "strokeWidth": 1.2}},
      "encoding": {
        "x": {"field": "b", "type": "quantitative", "scale": {"domain": [-0.3, 0.3], "range": [142, 259], "nice": false, "zero": false}, "axis": {"orient": "bottom", "offset": -101, "zindex": 1, "values": [-0.2,-0.1,0,0.1,0.2], "labelExpr": "datum.value == 0 ? '0' : datum.value == 0.2 ? '0.2' : datum.value == -0.2 ? '-0.2' : ''", "labelOverlap": false, "labelFlush": false, "labelFontSize": 14, "labelPadding": 12, "tickSize": -6, "tickWidth": 1.3, "title": null}},
        "y": {"field": "c", "type": "quantitative", "scale": {"domain": [0, 15], "range": [125, 5], "nice": false, "clamp": true}, "axis": {"orient": "left", "offset": -142, "zindex": 1, "values": [0,5,10], "labelExpr": "datum.value % 10 == 0 ? datum.label : ''", "labelOverlap": false, "labelFlush": false, "labelFontSize": 14, "labelPadding": 12, "tickSize": -6, "tickWidth": 1.3, "title": null}}}},
     {"data": {"name": "bl_hf"}, "mark": {"type": "area", "interpolate": "step-after", "fill": "#ff0000"},
      "encoding": {"x": {"field": "b", "type": "quantitative"}, "y": {"field": "c", "type": "quantitative"}}},
     {"data": {"values": [{}]}, "mark": {"type": "rect", "fill": "#ffffff", "fillOpacity": 0, "stroke": "#333333", "strokeWidth": 1.5},
      "encoding": {"x": {"datum": -0.3, "type": "quantitative"}, "x2": {"datum": 0.3}, "y": {"datum": 0, "type": "quantitative"}, "y2": {"datum": 15}}}
   ]}
  ],
  "resolve": {"scale": {"x": "independent", "y": "independent"}, "axis": {"x": "independent", "y": "independent"}}
 },
 {
  "width": 262, "height": 226,
  "view": {"fill": {"gradient": "linear", "x1": 0, "y1": 0, "x2": 0, "y2": 1, "stops": [{"offset": 0, "color": "#f1e6f1"}, {"offset": 1, "color": "#f9e6ec"}]}},
  "layer": [
   {"layer": [
     {"data": {"name": "br_f"}, "mark": {"type": "line", "color": "#ff0000", "strokeWidth": 2, "interpolate": "monotone"},
      "encoding": {
        "x": {"field": "t", "type": "quantitative", "scale": {"domain": [0, 20], "nice": false, "zero": false}, "axis": {"values": [0,2.5,5,7.5,10,12.5,15,17.5,20], "labelExpr": "datum.value % 5 == 0 ? datum.label : ''", "labelOverlap": false, "labelFlush": false, "labelFontSize": 19, "labelPadding": 11, "tickSize": -5, "tickWidth": 1.3, "title": "t", "titleFontStyle": "italic", "titleFontWeight": "normal", "titleFontSize": 24, "titlePadding": 0}},
        "y": {"field": "v", "type": "quantitative", "scale": {"domain": [-0.6, 2], "nice": false, "zero": false}, "axis": {"values": [-0.5,0,0.5,1,1.5,2], "labels": false, "tickSize": -6, "tickWidth": 1.3, "title": null}}}},
     {"data": {"name": "br_d"}, "mark": {"type": "line", "color": "#0000ff", "strokeWidth": 2, "strokeDash": [7, 5], "interpolate": "monotone"},
      "encoding": {"x": {"field": "t", "type": "quantitative"}, "y": {"field": "v", "type": "quantitative"}}},
     {"data": {"values": [{}]}, "mark": {"type": "rect", "fill": "#dce8d8", "stroke": "#f1ecc2", "strokeWidth": 2},
      "encoding": {"x": {"datum": 0.92, "type": "quantitative"}, "x2": {"datum": 7.6}, "y": {"datum": 1.40, "type": "quantitative"}, "y2": {"datum": 1.67}}},
     {"data": {"values": [{}]}, "mark": {"type": "text", "align": "left", "baseline": "middle", "font": "Liberation Mono", "fontStyle": "italic", "fontSize": 18, "color": "#5e5e5e"},
      "encoding": {"x": {"datum": 1.32, "type": "quantitative"}, "y": {"datum": 1.77, "type": "quantitative"}, "text": {"value": "L=18,N=6"}}},
     {"data": {"values": [{}]}, "mark": {"type": "text", "align": "left", "baseline": "middle", "font": "Liberation Mono", "fontStyle": "italic", "fontSize": 18, "color": "#3f4f42"},
      "encoding": {"x": {"datum": 1.32, "type": "quantitative"}, "y": {"datum": 1.55, "type": "quantitative"}, "text": {"value": "nonint."}}}
   ]},
   {"layer": [
     {"data": {"name": "br_hd"}, "mark": {"type": "area", "interpolate": "step-after", "fill": "#0000ff", "fillOpacity": 0.3, "line": {"color": "#0000ff", "strokeWidth": 1.2}},
      "encoding": {
        "x": {"field": "b", "type": "quantitative", "scale": {"domain": [-0.15, 0.15], "range": [143, 260], "nice": false, "zero": false}, "axis": {"orient": "bottom", "offset": -101, "zindex": 1, "values": [-0.1,-0.05,0,0.05,0.1], "labelExpr": "datum.value == 0 ? '0' : datum.value == 0.1 ? '0.1' : datum.value == -0.1 ? '-0.1' : ''", "labelOverlap": false, "labelFlush": false, "labelFontSize": 14, "labelPadding": 12, "tickSize": -6, "tickWidth": 1.3, "title": null}},
        "y": {"field": "c", "type": "quantitative", "scale": {"domain": [0, 50], "range": [125, 5], "nice": false, "clamp": true}, "axis": {"orient": "left", "offset": -143, "zindex": 1, "values": [0,10,20,30,40], "labelExpr": "datum.value % 20 == 0 ? datum.label : ''", "labelOverlap": false, "labelFlush": false, "labelFontSize": 14, "labelPadding": 12, "tickSize": -6, "tickWidth": 1.3, "title": null}}}},
     {"data": {"name": "br_hf"}, "mark": {"type": "area", "interpolate": "step-after", "fill": "#ff0000"},
      "encoding": {"x": {"field": "b", "type": "quantitative"}, "y": {"field": "c", "type": "quantitative"}}},
     {"data": {"values": [{}]}, "mark": {"type": "rect", "fill": "#ffffff", "fillOpacity": 0, "stroke": "#333333", "strokeWidth": 1.5},
      "encoding": {"x": {"datum": -0.15, "type": "quantitative"}, "x2": {"datum": 0.15}, "y": {"datum": 0, "type": "quantitative"}, "y2": {"datum": 50}}}
   ]}
  ],
  "resolve": {"scale": {"x": "independent", "y": "independent"}, "axis": {"x": "independent", "y": "independent"}}
 }
]
}
